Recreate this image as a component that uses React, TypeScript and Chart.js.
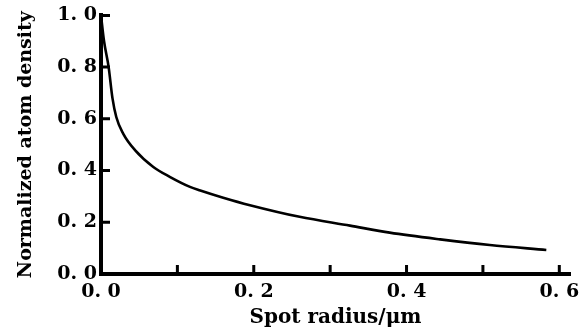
import React, { useEffect, useRef } from "react";
import { Chart, registerables } from "chart.js";

Chart.register(...registerables);

const radius = [0, 0.004, 0.01, 0.015, 0.02, 0.029, 0.0445, 0.0685, 0.09, 0.1165, 0.13, 0.16, 0.195, 0.26, 0.326, 0.378, 0.444, 0.509, 0.583];
const density = [1.0, 0.9, 0.8, 0.68, 0.607, 0.543, 0.479, 0.414, 0.376, 0.337, 0.323, 0.295, 0.266, 0.221, 0.187, 0.16, 0.134, 0.112, 0.093];

const xTickValues = [0, 0.1, 0.2, 0.3, 0.4, 0.5, 0.6];
const xTickLabels = ["0. 0", "", "0. 2", "", "0. 4", "", "0. 6"];
const yTickValues = [0, 0.2, 0.4, 0.6, 0.8, 1.0];
const yTickLabels = ["0. 0", "0. 2", "0. 4", "0. 6", "0. 8", "1. 0"];

const xTitle = "Spot radius/μm";
const yTitle = "Normalized atom density";

const innerTicks = {
  id: "innerTicks",
  afterDraw(chart: any) {
    const ctx = chart.ctx;
    const xs = chart.scales.x;
    const ys = chart.scales.y;
    const area = chart.chartArea;
    ctx.save();
    ctx.strokeStyle = "#000";
    ctx.lineWidth = 3;
    ctx.beginPath();
    xTickValues.forEach((v) => {
      if (v === 0) return;
      const px = xs.getPixelForValue(v);
      ctx.moveTo(px, area.bottom);
      ctx.lineTo(px, area.bottom - 9);
    });
    yTickValues.forEach((v) => {
      if (v === 0) return;
      const py = ys.getPixelForValue(v);
      ctx.moveTo(area.left, py);
      ctx.lineTo(area.left + 9, py);
    });
    ctx.stroke();
    ctx.restore();
  },
};

export default function App() {
  const ref = useRef<HTMLCanvasElement>(null);
  useEffect(() => {
    if (!ref.current) return;
    const chart = new Chart(ref.current, {
      type: "line",
      data: {
        datasets: [
          {
            data: radius.map((r, i) => ({ x: r, y: density[i] })),
            borderColor: "#000",
            borderWidth: 2.6,
            pointRadius: 0,
            cubicInterpolationMode: "monotone",
            fill: false,
            clip: false as any,
          },
        ],
      },
      options: {
        animation: false,
        responsive: false,
        layout: { padding: { top: 15, right: 17, bottom: 0, left: 0 } },
        plugins: { legend: { display: false }, tooltip: { enabled: false } },
        scales: {
          x: {
            type: "linear",
            min: 0,
            max: 0.614,
            afterBuildTicks: (s: any) => {
              s.ticks = xTickValues.map((v) => ({ value: v }));
            },
            afterFit: (s: any) => {
              s.height = 60;
            },
            grid: { display: true, drawOnChartArea: false, drawTicks: false },
            border: { display: true, color: "#000", width: 4 },
            ticks: {
              autoSkip: false,
              maxRotation: 0,
              padding: 7,
              color: "#000",
              font: { family: "DejaVu Serif", weight: "bold", size: 19 },
              callback: (_v: any, i: number) => xTickLabels[i],
            },
            title: {
              display: true,
              text: xTitle,
              color: "#000",
              font: { family: "DejaVu Serif", weight: "bold", size: 20 },
              padding: { top: 0, bottom: 4 },
            },
          },
          y: {
            type: "linear",
            min: 0,
            max: 1.0,
            afterBuildTicks: (s: any) => {
              s.ticks = yTickValues.map((v) => ({ value: v }));
            },
            afterFit: (s: any) => {
              s.width = 101;
            },
            grid: { display: true, drawOnChartArea: false, drawTicks: false },
            border: { display: true, color: "#000", width: 4 },
            ticks: {
              autoSkip: false,
              padding: 4,
              color: "#000",
              font: { family: "DejaVu Serif", weight: "bold", size: 19 },
              callback: (_v: any, i: number) => yTickLabels[i],
            },
            title: {
              display: true,
              text: yTitle,
              color: "#000",
              font: { family: "DejaVu Serif", weight: "bold", size: 19 },
              padding: { top: 15, bottom: 0 },
            },
          },
        },
      },
      plugins: [innerTicks],
    });
    return () => chart.destroy();
  }, []);
  return (
    <div style={{ position: "fixed", left: 0, top: 0, width: 587, height: 334, background: "#fff" }}>
      <canvas ref={ref} width={587} height={334} />
    </div>
  );
}
